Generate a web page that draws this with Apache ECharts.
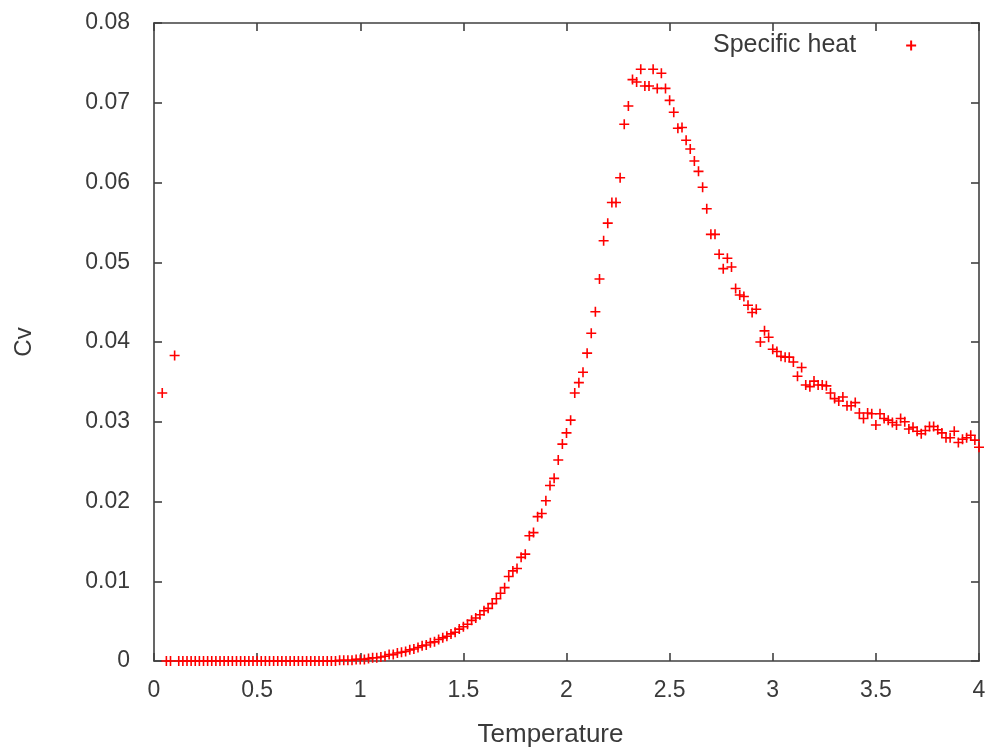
<!DOCTYPE html>
<html><head><meta charset="utf-8">
<script src="https://cdn.jsdelivr.net/npm/echarts@6/dist/echarts.min.js"></script>
<style>html,body{margin:0;padding:0;background:#fff}#c{width:990px;height:754px}</style>
</head><body><div id="c"></div>
<script>
const temperature = [
0.04,0.06,0.08,0.10,0.12,0.14,0.16,0.18,0.20,0.22,
0.24,0.26,0.28,0.30,0.32,0.34,0.36,0.38,0.40,0.42,
0.44,0.46,0.48,0.50,0.52,0.54,0.56,0.58,0.60,0.62,
0.64,0.66,0.68,0.70,0.72,0.74,0.76,0.78,0.80,0.82,
0.84,0.86,0.88,0.90,0.92,0.94,0.96,0.98,1.00,1.02,
1.04,1.06,1.08,1.10,1.12,1.14,1.16,1.18,1.20,1.22,
1.24,1.26,1.28,1.30,1.32,1.34,1.36,1.38,1.40,1.42,
1.44,1.46,1.48,1.50,1.52,1.54,1.56,1.58,1.60,1.62,
1.64,1.66,1.68,1.70,1.72,1.74,1.76,1.78,1.80,1.82,
1.84,1.86,1.88,1.90,1.92,1.94,1.96,1.98,2.00,2.02,
2.04,2.06,2.08,2.10,2.12,2.14,2.16,2.18,2.20,2.22,
2.24,2.26,2.28,2.30,2.32,2.34,2.36,2.38,2.40,2.42,
2.44,2.46,2.48,2.50,2.52,2.54,2.56,2.58,2.60,2.62,
2.64,2.66,2.68,2.70,2.72,2.74,2.76,2.78,2.80,2.82,
2.84,2.86,2.88,2.90,2.92,2.94,2.96,2.98,3.00,3.02,
3.04,3.06,3.08,3.10,3.12,3.14,3.16,3.18,3.20,3.22,
3.24,3.26,3.28,3.30,3.32,3.34,3.36,3.38,3.40,3.42,
3.44,3.46,3.48,3.50,3.52,3.54,3.56,3.58,3.60,3.62,
3.64,3.66,3.68,3.70,3.72,3.74,3.76,3.78,3.80,3.82,
3.84,3.86,3.88,3.90,3.92,3.94,3.96,3.98,4.00
];
const specificHeat = [
0.0336,0,0,0.0383,0,0,0,0,0,0,
0,0,0,0,0,0,0,0,0,0,
0,0,0,0,0,0,0,0,0,0,
0,0,0,0,0,0,0,0,0,0,
0,0,0,0.0001,0.0001,0.0001,0.0001,0.0002,0.0002,0.0002,
0.0003,0.0004,0.0004,0.0005,0.0006,0.0008,0.0008,0.0010,0.0011,0.0012,
0.0014,0.0015,0.0017,0.0019,0.0020,0.0023,0.0024,0.0027,0.0029,0.0031,
0.0034,0.0036,0.0040,0.0043,0.0046,0.0051,0.0054,0.0058,0.0063,0.0066,
0.0072,0.0078,0.0085,0.0092,0.0106,0.0113,0.0116,0.0130,0.0134,0.0157,
0.0161,0.0181,0.0185,0.0201,0.0220,0.0229,0.0252,0.0272,0.0286,0.0302,
0.0336,0.0349,0.0362,0.0386,0.0411,0.0438,0.0479,0.0527,0.0549,0.0575,
0.0575,0.0606,0.0673,0.0696,0.0729,0.0726,0.0742,0.0721,0.0721,0.0742,
0.0718,0.0737,0.0718,0.0703,0.0688,0.0668,0.0669,0.0653,0.0642,0.0627,
0.0614,0.0594,0.0567,0.0535,0.0535,0.0510,0.0492,0.0505,0.0494,0.0467,
0.0459,0.0457,0.0446,0.0437,0.0441,0.0400,0.0414,0.0406,0.0391,0.0388,
0.0382,0.0381,0.0381,0.0375,0.0357,0.0368,0.0346,0.0344,0.0351,0.0346,
0.0346,0.0345,0.0336,0.0329,0.0326,0.0331,0.0320,0.0320,0.0324,0.0311,
0.0304,0.0311,0.0310,0.0296,0.0310,0.0304,0.0302,0.0299,0.0296,0.0304,
0.0300,0.0291,0.0293,0.0288,0.0285,0.0289,0.0294,0.0294,0.0290,0.0286,
0.0280,0.0280,0.0288,0.0274,0.0278,0.0280,0.0283,0.0277,0.0268
];
const seriesName = 'Specific heat';
const xName = 'Temperature';
const yName = 'Cv';

const points = temperature.map((t, i) => [t, specificHeat[i]]);
const plus = 'path://M0,5L10,5M5,0L5,10';
const font = "'Liberation Sans', Arial, sans-serif";
const axisCol = '#404040';
const textCol = '#3a3a3a';

function axisStyle() {
  return {
    axisLine: {show: true, onZero: false, lineStyle: {color: axisCol, width: 1.6}},
    axisTick: {show: true, inside: true, length: 8, lineStyle: {color: axisCol, width: 1.6}},
    splitLine: {show: false}
  };
}

const chart = echarts.init(document.getElementById('c'), null, {renderer: 'canvas'});
chart.setOption({
  animation: false,
  backgroundColor: '#fff',
  grid: {left: 154, right: 11, top: 23, bottom: 93, containLabel: false},
  legend: {
    data: [{name: seriesName, icon: plus}],
    left: 708, top: 28,
    align: 'right',
    itemWidth: 100, itemHeight: 10,
    textStyle: {fontFamily: font, fontSize: 25, color: textCol},
    selectedMode: false
  },
  xAxis: [
    Object.assign({type: 'value', min: 0, max: 4, interval: 0.5, position: 'bottom',
      name: xName, nameLocation: 'middle', nameGap: 61,
      nameTextStyle: {fontFamily: font, fontSize: 26, color: textCol, padding: [0, 32, 0, 0]},
      axisLabel: {fontFamily: font, fontSize: 23, color: textCol, margin: 18}}, axisStyle()),
    Object.assign({type: 'value', min: 0, max: 4, interval: 0.5, position: 'top',
      axisLabel: {show: false}}, axisStyle())
  ],
  yAxis: [
    Object.assign({type: 'value', min: 0, max: 0.08, interval: 0.01, position: 'left',
      name: yName, nameLocation: 'middle', nameGap: 118,
      nameTextStyle: {fontFamily: font, fontSize: 24, color: textCol},
      axisLabel: {fontFamily: font, fontSize: 23, color: textCol, margin: 24}}, axisStyle()),
    Object.assign({type: 'value', min: 0, max: 0.08, interval: 0.01, position: 'right',
      axisLabel: {show: false}}, axisStyle())
  ],
  series: [{
    name: seriesName,
    type: 'scatter',
    data: points,
    symbol: plus,
    symbolSize: 10,
    symbolKeepAspect: true,
    itemStyle: {color: '#ff0000', borderColor: '#ff0000', borderWidth: 1.6, opacity: 1},
    emphasis: {disabled: true},
    clip: false
  }]
});
</script></body></html>
